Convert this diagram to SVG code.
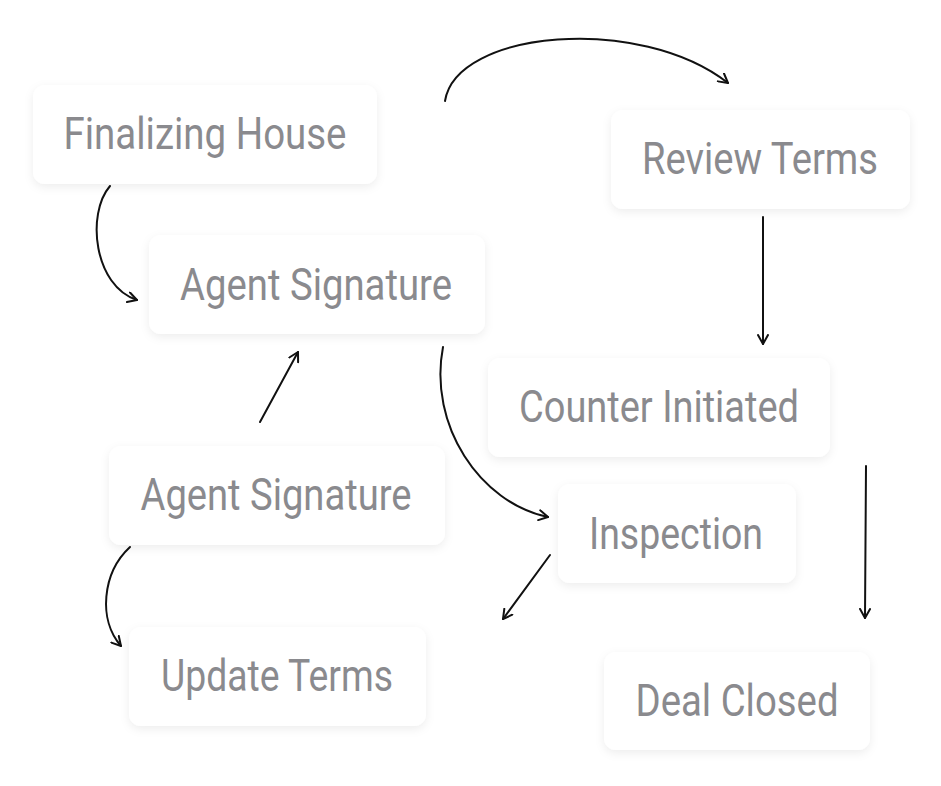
<svg xmlns="http://www.w3.org/2000/svg" width="941" height="786" viewBox="0 0 941 786">
<style>
.box{fill:#ffffff;filter:url(#sh);}
.lbl{font-family:"Roboto","Liberation Sans",Arial,sans-serif;font-weight:400;font-size:44px;fill:#8a8a8e;text-anchor:middle;}
.edge{fill:none;stroke:#111111;stroke-width:2;stroke-linecap:round;marker-end:url(#arr);}
</style>
<defs>
<filter id="sh" x="-20%" y="-30%" width="140%" height="160%">
<feDropShadow dx="0" dy="3" stdDeviation="5" flood-color="#000000" flood-opacity="0.07"/>
</filter>
<marker id="arr" viewBox="0 0 12 12" refX="10" refY="6" markerWidth="12" markerHeight="12" markerUnits="userSpaceOnUse" orient="auto">
<path d="M1,1 L10,6 L1,11" fill="none" stroke="#111111" stroke-width="2" stroke-linecap="round" stroke-linejoin="round"/>
</marker>
</defs>
<rect width="941" height="786" fill="#ffffff"/>
<g id="connectors">
<path class="edge" d="M445,101 C456,30 640,14 728,83"/>
<path class="edge" d="M110,186 C86,214 94,286 137,300"/>
<path class="edge" d="M763,217 L763,344"/>
<path class="edge" d="M260,422 L298,352"/>
<path class="edge" d="M443,347 C428,425 480,503 548,517"/>
<path class="edge" d="M866,466 L865,618"/>
<path class="edge" d="M550,555 L503,619"/>
<path class="edge" d="M130,547 C102,573 98,620 121,646"/>
</g>
<g id="n1"><rect class="box" x="33" y="85" width="344" height="99" rx="12"/><text class="lbl" x="205" y="149" textLength="283" lengthAdjust="spacingAndGlyphs">Finalizing House</text></g>
<g id="n2"><rect class="box" x="611" y="110" width="299" height="99" rx="12"/><text class="lbl" x="760" y="174" textLength="236" lengthAdjust="spacingAndGlyphs">Review Terms</text></g>
<g id="n3"><rect class="box" x="149" y="235" width="336" height="99" rx="12"/><text class="lbl" x="316" y="300" textLength="272" lengthAdjust="spacingAndGlyphs">Agent Signature</text></g>
<g id="n4"><rect class="box" x="488" y="358" width="342" height="99" rx="12"/><text class="lbl" x="659" y="422" textLength="280" lengthAdjust="spacingAndGlyphs">Counter Initiated</text></g>
<g id="n5"><rect class="box" x="109" y="446" width="336" height="99" rx="12"/><text class="lbl" x="276" y="510" textLength="271" lengthAdjust="spacingAndGlyphs">Agent Signature</text></g>
<g id="n6"><rect class="box" x="558" y="484" width="238" height="99" rx="12"/><text class="lbl" x="676" y="549" textLength="174" lengthAdjust="spacingAndGlyphs">Inspection</text></g>
<g id="n7"><rect class="box" x="129" y="627" width="297" height="99" rx="12"/><text class="lbl" x="277" y="691" textLength="232" lengthAdjust="spacingAndGlyphs">Update Terms</text></g>
<g id="n8"><rect class="box" x="604" y="652" width="266" height="98" rx="12"/><text class="lbl" x="737" y="716" textLength="203" lengthAdjust="spacingAndGlyphs">Deal Closed</text></g>
</svg>
